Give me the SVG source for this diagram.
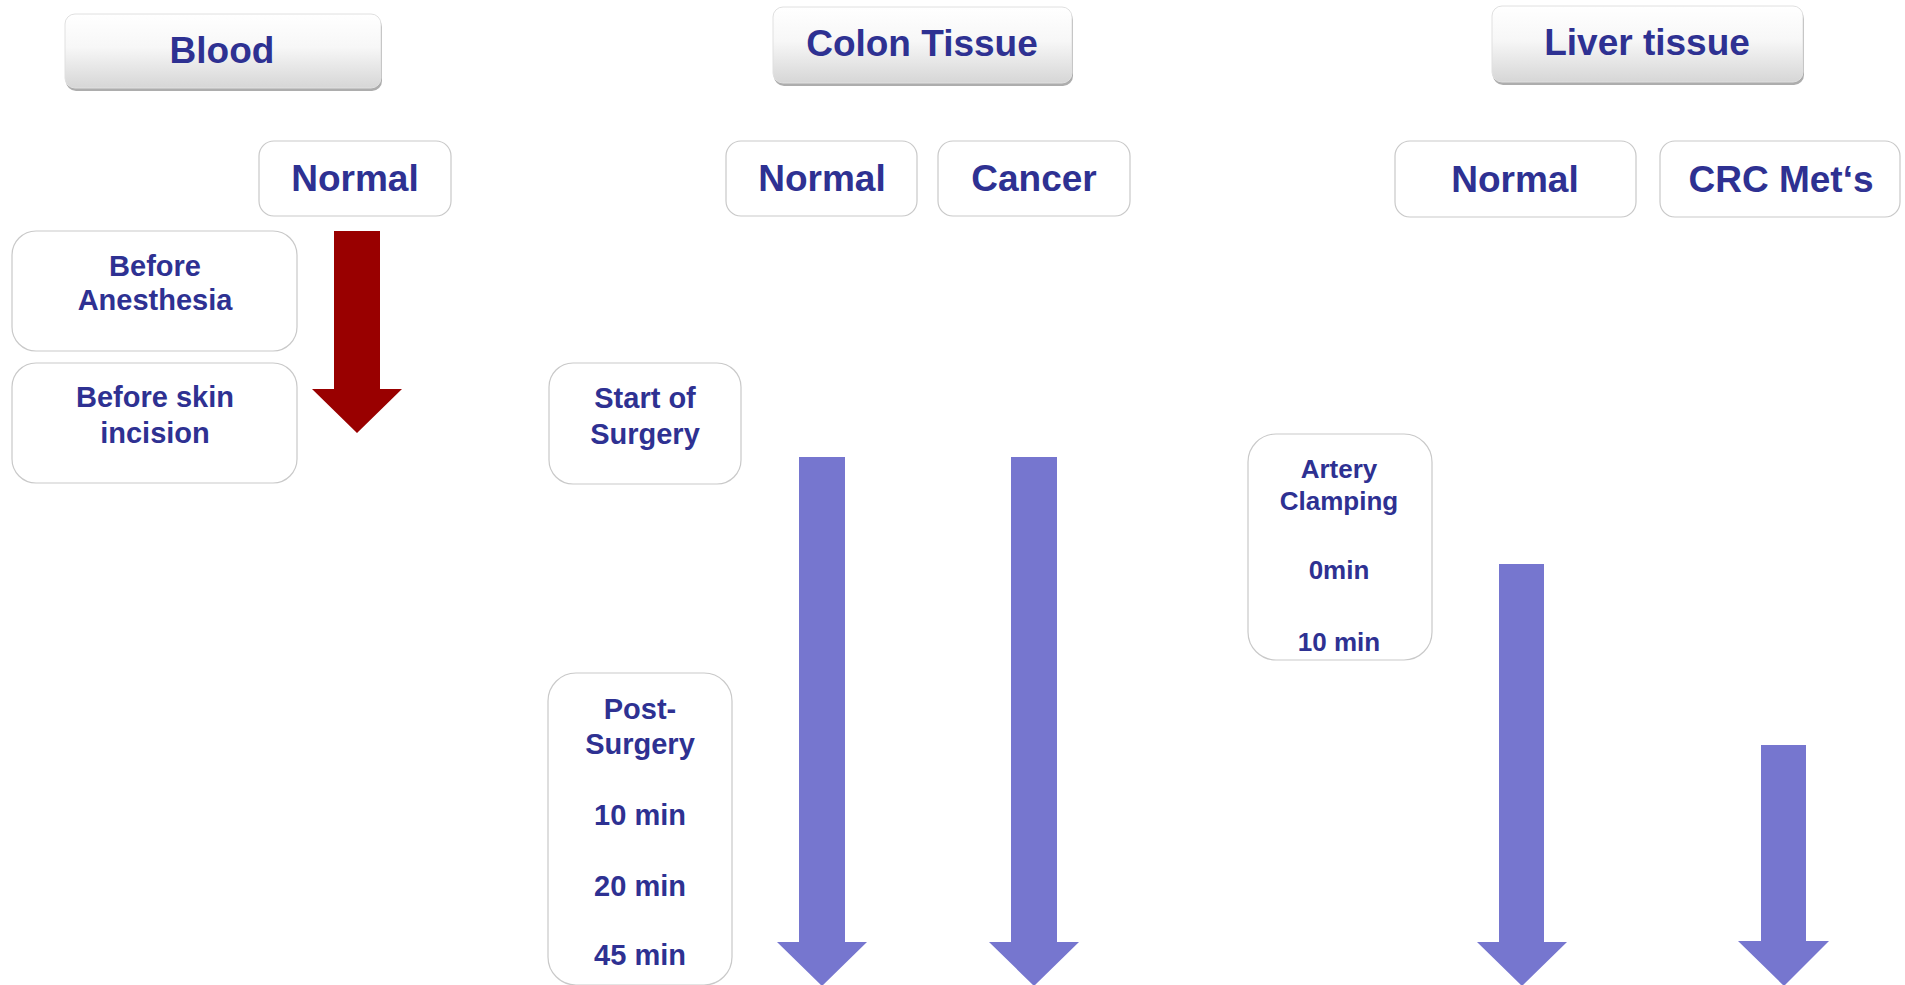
<svg xmlns="http://www.w3.org/2000/svg" width="1905" height="985" viewBox="0 0 1905 985">
<style>
text{font-family:"Liberation Sans",Arial,sans-serif;font-weight:bold;fill:#2E3192;text-anchor:middle}
.h{font-size:37px}
.l{font-size:37px}
.s{font-size:29px}
.a{font-size:26px}
.box{fill:#ffffff;stroke:#c9c9c9;stroke-width:1.2}
.btn{fill:url(#g);stroke:#e0e0e0;stroke-width:1}
.sh{fill:#8a8a8a;opacity:0.7}
.pa{fill:#7676CF}
.ra{fill:#990000}
</style>
<defs>
<linearGradient id="g" x1="0" y1="0" x2="0" y2="1">
<stop offset="0" stop-color="#ffffff"/>
<stop offset="0.45" stop-color="#f7f7f7"/>
<stop offset="1" stop-color="#d6d6d6"/>
</linearGradient>
</defs>
<rect width="1905" height="985" fill="#ffffff"/>

<g id="blood-header">
<rect class="sh" x="66" y="17" width="316" height="74" rx="10"/>
<rect class="btn" x="65" y="14" width="316" height="74" rx="10"/>
<text class="h" x="222" y="63">Blood</text>
</g>
<g id="colon-header">
<rect class="sh" x="774" y="10" width="299" height="76" rx="10"/>
<rect class="btn" x="773" y="7" width="299" height="76" rx="10"/>
<text class="h" x="922" y="56">Colon Tissue</text>
</g>
<g id="liver-header">
<rect class="sh" x="1493" y="9" width="311" height="76" rx="10"/>
<rect class="btn" x="1492" y="6" width="311" height="76" rx="10"/>
<text class="h" x="1647" y="55">Liver tissue</text>
</g>

<g id="blood-normal">
<rect class="box" x="259" y="141" width="192" height="75" rx="15"/>
<text class="l" x="355" y="191">Normal</text>
</g>
<g id="colon-normal">
<rect class="box" x="726" y="141" width="191" height="75" rx="15"/>
<text class="l" x="822" y="191">Normal</text>
</g>
<g id="colon-cancer">
<rect class="box" x="938" y="141" width="192" height="75" rx="15"/>
<text class="l" x="1034" y="191">Cancer</text>
</g>
<g id="liver-normal">
<rect class="box" x="1395" y="141" width="241" height="76" rx="15"/>
<text class="l" x="1515" y="192">Normal</text>
</g>
<g id="liver-crc">
<rect class="box" x="1660" y="141" width="240" height="76" rx="15"/>
<text class="l" x="1781" y="192">CRC Met‘s</text>
</g>

<g id="before-anesthesia">
<rect class="box" x="12" y="231" width="285" height="120" rx="24"/>
<text class="s" x="155" y="276">Before</text>
<text class="s" x="155" y="310">Anesthesia</text>
</g>
<g id="before-skin-incision">
<rect class="box" x="12" y="363" width="285" height="120" rx="24"/>
<text class="s" x="155" y="407">Before skin</text>
<text class="s" x="155" y="443">incision</text>
</g>
<g id="start-of-surgery">
<rect class="box" x="549" y="363" width="192" height="121" rx="24"/>
<text class="s" x="645" y="408">Start of</text>
<text class="s" x="645" y="444">Surgery</text>
</g>
<g id="post-surgery">
<rect class="box" x="548" y="673" width="184" height="312" rx="28"/>
<text class="s" x="640" y="719">Post-</text>
<text class="s" x="640" y="754">Surgery</text>
<text class="s" x="640" y="825">10 min</text>
<text class="s" x="640" y="896">20 min</text>
<text class="s" x="640" y="965">45 min</text>
</g>
<g id="artery-clamping">
<rect class="box" x="1248" y="434" width="184" height="226" rx="28"/>
<text class="a" x="1339" y="478">Artery</text>
<text class="a" x="1339" y="510">Clamping</text>
<text class="a" x="1339" y="579">0min</text>
<text class="a" x="1339" y="651">10 min</text>
</g>

<g id="connectors">
<polygon class="ra" points="334,231 380,231 380,389 402,389 357,433 312,389 334,389"/>
<polygon class="pa" points="799,457 845,457 845,942 867,942 822,986 777,942 799,942"/>
<polygon class="pa" points="1011,457 1057,457 1057,942 1079,942 1034,986 989,942 1011,942"/>
<polygon class="pa" points="1499,564 1544,564 1544,942 1567,942 1522,986 1477,942 1499,942"/>
<polygon class="pa" points="1761,745 1806,745 1806,941 1829,941 1784,986 1738,941 1761,941"/>
</g>
</svg>
